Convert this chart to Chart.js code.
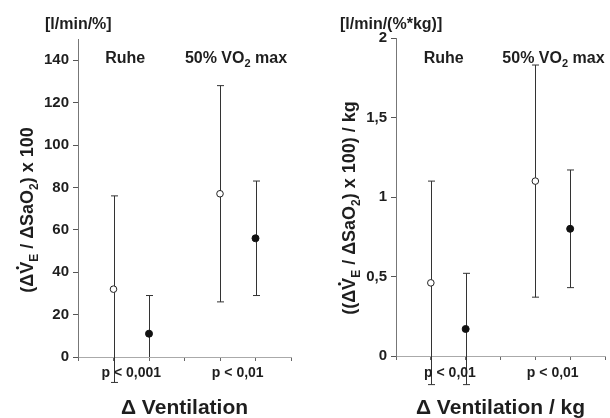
<!DOCTYPE html>
<html>
<head>
<meta charset="utf-8">
<script src="https://cdn.jsdelivr.net/npm/chart.js@4/dist/chart.umd.min.js"></script>
<style>
  body { margin: 0; background: #fff; }
  .panel { position: absolute; top: 0; width: 305px; height: 418px; }
</style>
</head>
<body>
<div class="panel" style="left:0"><canvas id="left" width="305" height="418"></canvas></div>
<div class="panel" style="left:305px"><canvas id="right" width="305" height="418"></canvas></div>
<script>
// x positions: Ruhe open/filled, 50% VO2max open/filled
const xOpen = [1, 4];
const xFilled = [2, 5];
const groupLabels = ['Ruhe', '50% VO2 max'];

// left panel: (dVE / dSaO2) x 100  [l/min/%]
const leftOpenMean = [32, 77];
const leftOpenLow = [-12, 26];
const leftOpenHigh = [76, 128];
const leftFilledMean = [11, 56];
const leftFilledLow = [0, 29];   // lower arm of the first one is not drawn in the original
const leftFilledHigh = [29, 83];
const leftPLabels = ['p < 0,001', 'p < 0,01'];

// right panel: per kg  [l/min/(%*kg)]
const rightOpenMean = [0.46, 1.10];
const rightOpenLow = [-0.18, 0.37];
const rightOpenHigh = [1.10, 1.83];
const rightFilledMean = [0.17, 0.80];
const rightFilledLow = [-0.18, 0.43];
const rightFilledHigh = [0.52, 1.17];
const rightPLabels = ['p < 0,01', 'p < 0,01'];

const FONT = '"Liberation Sans", Arial, sans-serif';
const TXT = '#1e1e1e';

function drawRich(ctx, parts, x, y, size, align) {
  const subSize = Math.round(size * 0.68);
  let w = 0;
  parts.forEach(p => {
    ctx.font = 'bold ' + (p[1] ? subSize : size) + 'px ' + FONT;
    w += ctx.measureText(p[0]).width;
  });
  let cx = align === 'center' ? x - w / 2 : x;
  ctx.textAlign = 'left';
  ctx.textBaseline = 'alphabetic';
  parts.forEach(p => {
    ctx.font = 'bold ' + (p[1] ? subSize : size) + 'px ' + FONT;
    ctx.fillText(p[0], cx, y + (p[1] ? size * 0.25 : 0));
    if (p[2]) { // dot over V
      const vw = ctx.measureText('V').width;
      const pre = ctx.measureText(p[0].slice(0, p[0].indexOf('V'))).width;
      ctx.beginPath();
      ctx.arc(cx + pre + vw / 2, y - size * 0.86, size * 0.09, 0, Math.PI * 2);
      ctx.fill();
    }
    cx += ctx.measureText(p[0]).width;
  });
}

const panelPlugin = {
  id: 'panelText',
  beforeDatasetsDraw(chart, args, o) {
    const ctx = chart.ctx, xs = chart.scales.x, ys = chart.scales.y;
    ctx.save();
    ctx.strokeStyle = '#333';
    ctx.lineWidth = 1;
    o.bars.forEach(b => {
      for (let i = 0; i < b.x.length; i++) {
        const px = Math.round(xs.getPixelForValue(b.x[i])) + 0.5;
        const top = ys.getPixelForValue(b.high[i]);
        const bot = ys.getPixelForValue(b.low[i]);
        ctx.beginPath();
        ctx.moveTo(px, top); ctx.lineTo(px, bot);
        ctx.moveTo(px - 3.5, top); ctx.lineTo(px + 3.5, top);
        if (b.low[i] !== 0) { ctx.moveTo(px - 3.5, bot); ctx.lineTo(px + 3.5, bot); }
        ctx.stroke();
      }
    });
    ctx.restore();
  },
  afterDraw(chart, args, o) {
    const ctx = chart.ctx, xs = chart.scales.x, ys = chart.scales.y;
    ctx.save();
    ctx.fillStyle = TXT;
    // unit
    drawRich(ctx, [[o.unit, 0]], o.unitX, 29, 16, 'left');
    // group labels
    drawRich(ctx, [[groupLabels[0], 0]], xs.getPixelForValue(o.groupX[0]), 63, 16, 'center');
    drawRich(ctx, [['50% VO', 0], ['2', 1], [' max', 0]], xs.getPixelForValue(o.groupX[1]), 63, 16, 'center');
    // p values
    o.pLabels.forEach((t, i) => {
      drawRich(ctx, [[t, 0]], xs.getPixelForValue(o.pX[i]), 377, 14, 'center');
    });
    // x title
    drawRich(ctx, [[o.xTitle, 0]], (xs.left + xs.right) / 2, 414, 21, 'center');
    // y title
    ctx.translate(o.yTitleX, o.yTitleY);
    ctx.rotate(-Math.PI / 2);
    drawRich(ctx, o.yTitle, 0, 0, 18, 'center');
    ctx.restore();
  }
};

function makeChart(id, cfg) {
  return new Chart(document.getElementById(id), {
    type: 'scatter',
    data: {
      datasets: [
        {
          data: cfg.openMean.map((v, i) => ({ x: xOpen[i], y: v })),
          pointRadius: 3.3, pointBackgroundColor: '#fff', pointBorderColor: '#222', pointBorderWidth: 1
        },
        {
          data: cfg.filledMean.map((v, i) => ({ x: xFilled[i], y: v })),
          pointRadius: 3.5, pointBackgroundColor: '#111', pointBorderColor: '#111', pointBorderWidth: 1
        }
      ]
    },
    options: {
      responsive: false,
      animation: false,
      layout: { padding: { top: cfg.padTop, right: cfg.padRight, left: 0, bottom: 0 } },
      plugins: {
        legend: { display: false },
        tooltip: { enabled: false },
        panelText: cfg.text
      },
      scales: {
        x: {
          type: 'linear', min: 0, max: 6,
          ticks: { stepSize: 1, callback: () => '' },
          grid: { drawOnChartArea: false, drawTicks: true, tickLength: 4, color: '#666' },
          border: { color: '#aaa', width: 1 },
          afterFit: s => { s.height = cfg.xHeight; }
        },
        y: {
          min: 0, max: cfg.yMax,
          ticks: {
            stepSize: cfg.yStep, color: TXT, padding: 4,
            font: { family: FONT, size: 15, weight: 'bold' },
            callback: cfg.yCallback
          },
          grid: { drawOnChartArea: false, drawTicks: true, tickLength: 5, color: '#555' },
          border: { color: '#777', width: 1 },
          afterFit: s => { s.width = cfg.yWidth; }
        }
      }
    },
    plugins: [panelPlugin]
  });
}

makeChart('left', {
  openMean: leftOpenMean, filledMean: leftFilledMean,
  padTop: 39, padRight: 14, xHeight: 61, yWidth: 78,
  yMax: 150, yStep: 20,
  yCallback: v => (v > 140 ? null : String(v)),
  text: {
    bars: [
      { x: xOpen, low: leftOpenLow, high: leftOpenHigh },
      { x: xFilled, low: leftFilledLow, high: leftFilledHigh }
    ],
    unit: '[l/min/%]', unitX: 45,
    groupX: [1.33, 4.45],
    pLabels: leftPLabels, pX: [1.5, 4.5],
    xTitle: '\u0394 Ventilation',
    yTitle: [['(\u0394V', 0, 1], ['E', 1], [' / \u0394SaO', 0], ['2', 1], [') x 100', 0]],
    yTitleX: 33, yTitleY: 210
  }
});

makeChart('right', {
  openMean: rightOpenMean, filledMean: rightFilledMean,
  padTop: 38, padRight: 0, xHeight: 62, yWidth: 91,
  yMax: 2, yStep: 0.5,
  yCallback: v => String(v).replace('.', ','),
  text: {
    bars: [
      { x: xOpen, low: rightOpenLow, high: rightOpenHigh },
      { x: xFilled, low: rightFilledLow, high: rightFilledHigh }
    ],
    unit: '[l/min/(%*kg)]', unitX: 35,
    groupX: [1.37, 4.52],
    pLabels: rightPLabels, pX: [1.55, 4.5],
    xTitle: '\u0394 Ventilation / kg',
    yTitle: [['((\u0394V', 0, 1], ['E', 1], [' / \u0394SaO', 0], ['2', 1], [') x 100) / kg', 0]],
    yTitleX: 50, yTitleY: 208
  }
});
</script>
</body>
</html>
